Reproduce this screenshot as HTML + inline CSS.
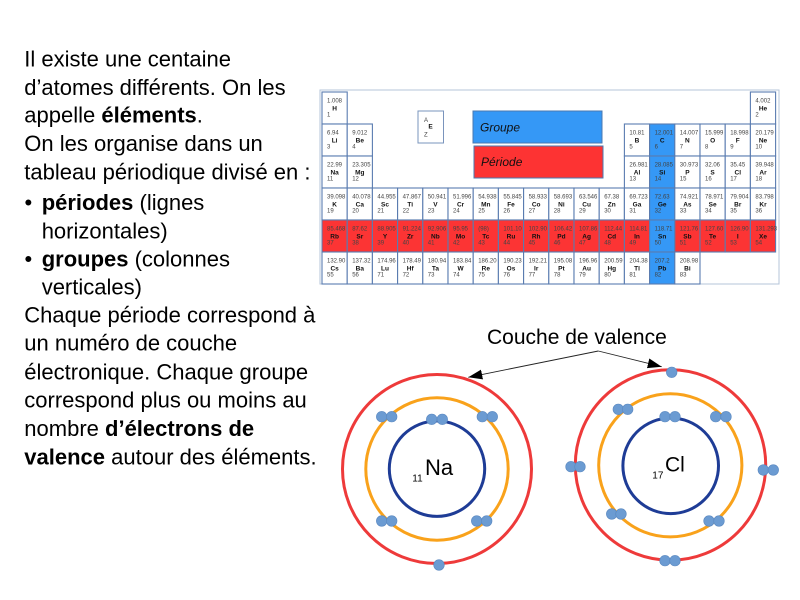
<!DOCTYPE html>
<html>
<head>
<meta charset="utf-8">
<style>
  html,body{margin:0;padding:0;background:#fff;}
  body{width:800px;height:600px;overflow:hidden;}
  svg{display:block;}
  .p{font-family:"Liberation Sans",Arial,sans-serif;font-size:22px;fill:#000;}
  .b{font-weight:bold;}
  .c{fill:#fff;stroke:#5a7cb0;stroke-width:1.1;}
  .r{fill:#fc3434;stroke:#5a7cb0;stroke-width:1.1;}
  .u{fill:#3598f6;stroke:#5a7cb0;stroke-width:1.1;}
  .m{font-family:"Liberation Sans",Arial,sans-serif;font-size:6px;fill:#444;}
  .s{font-family:"Liberation Sans",Arial,sans-serif;font-size:6.5px;font-weight:bold;fill:#111;text-anchor:middle;}
  .n{font-family:"Liberation Sans",Arial,sans-serif;font-size:6px;fill:#444;}
  .lab{font-family:"Liberation Sans",Arial,sans-serif;font-size:12px;font-style:italic;fill:#111;}
  .el{fill:#6b9bd2;stroke:#5a88c0;stroke-width:0.6;}
</style>
</head>
<body>
<svg width="800" height="600" viewBox="0 0 800 600" xmlns="http://www.w3.org/2000/svg">
<defs>
  <marker id="ah" markerUnits="userSpaceOnUse" markerWidth="14" markerHeight="10" refX="14" refY="5" orient="auto">
    <path d="M0,0 L14,5 L0,10 z" fill="#000"/>
  </marker>
</defs>

<!-- Left paragraph -->
<text class="p" x="24.3" y="66.7">Il existe une centaine</text>
<text class="p" x="24.3" y="95">d’atomes différents. On les</text>
<text class="p" x="24.3" y="122.7">appelle <tspan class="b">éléments</tspan>.</text>
<text class="p" x="24.3" y="151">On les organise dans un</text>
<text class="p" x="24.3" y="179.3">tableau périodique divisé en :</text>
<text class="p" x="24.5" y="210">•</text>
<text class="p" x="41.7" y="210"><tspan class="b">périodes</tspan> (lignes</text>
<text class="p" x="41.7" y="238.3">horizontales)</text>
<text class="p" x="24.5" y="266.7">•</text>
<text class="p" x="41.7" y="266.7"><tspan class="b">groupes</tspan> (colonnes</text>
<text class="p" x="41.7" y="294.3">verticales)</text>
<text class="p" x="24.3" y="322.3">Chaque période correspond à</text>
<text class="p" x="24.3" y="350.7">un numéro de couche</text>
<text class="p" x="24.3" y="379.3">électronique. Chaque groupe</text>
<text class="p" x="24.3" y="407.7">correspond plus ou moins au</text>
<text class="p" x="24.3" y="436">nombre <tspan class="b">d’électrons de</tspan></text>
<text class="p" x="24.3" y="464.3"><tspan class="b">valence</tspan> autour des éléments.</text>

<!-- Periodic table frame -->
<rect x="320" y="90" width="459" height="194" fill="#fff" stroke="#b4c4da" stroke-width="1"/>

<!-- Legend boxes -->
<rect x="418" y="111" width="25.5" height="32" fill="#fff" stroke="#7a94bc" stroke-width="1"/>
<text class="n" x="424" y="122">A</text>
<text class="s" x="430.5" y="128.5">E</text>
<text class="n" x="424" y="136.5">Z</text>
<rect x="473" y="111" width="129" height="32" fill="#3598f6" stroke="#4a78b0" stroke-width="1"/>
<text class="lab" x="480" y="131.5">Groupe</text>
<rect x="474" y="146" width="129" height="32" fill="#fd3333" stroke="#4a78b0" stroke-width="1"/>
<text class="lab" x="481" y="166">Période</text>

<!-- Row 1 -->
<g transform="translate(322,92)"><rect class="c" width="25.2" height="32"/><text class="m" x="5" y="10.5">1.008</text><text class="s" x="12.6" y="18.3">H</text><text class="n" x="5" y="24.7">1</text></g>
<g transform="translate(750.4,92)"><rect class="c" width="25.2" height="32"/><text class="m" x="5" y="10.5">4.002</text><text class="s" x="12.6" y="18.3">He</text><text class="n" x="5" y="24.7">2</text></g>

<!-- Row 2 -->
<g transform="translate(322,124)"><rect class="c" width="25.2" height="32"/><text class="m" x="5" y="10.5">6.94</text><text class="s" x="12.6" y="18.3">Li</text><text class="n" x="5" y="24.7">3</text></g>
<g transform="translate(347.2,124)"><rect class="c" width="25.2" height="32"/><text class="m" x="5" y="10.5">9.012</text><text class="s" x="12.6" y="18.3">Be</text><text class="n" x="5" y="24.7">4</text></g>
<g transform="translate(624.4,124)"><rect class="c" width="25.2" height="32"/><text class="m" x="5" y="10.5">10.81</text><text class="s" x="12.6" y="18.3">B</text><text class="n" x="5" y="24.7">5</text></g>
<g transform="translate(649.6,124)"><rect class="u" width="25.2" height="32"/><text class="m" x="5" y="10.5">12.001</text><text class="s" x="12.6" y="18.3">C</text><text class="n" x="5" y="24.7">6</text></g>
<g transform="translate(674.8,124)"><rect class="c" width="25.2" height="32"/><text class="m" x="5" y="10.5">14.007</text><text class="s" x="12.6" y="18.3">N</text><text class="n" x="5" y="24.7">7</text></g>
<g transform="translate(700,124)"><rect class="c" width="25.2" height="32"/><text class="m" x="5" y="10.5">15.999</text><text class="s" x="12.6" y="18.3">O</text><text class="n" x="5" y="24.7">8</text></g>
<g transform="translate(725.2,124)"><rect class="c" width="25.2" height="32"/><text class="m" x="5" y="10.5">18.998</text><text class="s" x="12.6" y="18.3">F</text><text class="n" x="5" y="24.7">9</text></g>
<g transform="translate(750.4,124)"><rect class="c" width="25.2" height="32"/><text class="m" x="5" y="10.5">20.179</text><text class="s" x="12.6" y="18.3">Ne</text><text class="n" x="5" y="24.7">10</text></g>

<!-- Row 3 -->
<g transform="translate(322,156)"><rect class="c" width="25.2" height="32"/><text class="m" x="5" y="10.5">22.99</text><text class="s" x="12.6" y="18.3">Na</text><text class="n" x="5" y="24.7">11</text></g>
<g transform="translate(347.2,156)"><rect class="c" width="25.2" height="32"/><text class="m" x="5" y="10.5">23.305</text><text class="s" x="12.6" y="18.3">Mg</text><text class="n" x="5" y="24.7">12</text></g>
<g transform="translate(624.4,156)"><rect class="c" width="25.2" height="32"/><text class="m" x="5" y="10.5">26.981</text><text class="s" x="12.6" y="18.3">Al</text><text class="n" x="5" y="24.7">13</text></g>
<g transform="translate(649.6,156)"><rect class="u" width="25.2" height="32"/><text class="m" x="5" y="10.5">28.085</text><text class="s" x="12.6" y="18.3">Si</text><text class="n" x="5" y="24.7">14</text></g>
<g transform="translate(674.8,156)"><rect class="c" width="25.2" height="32"/><text class="m" x="5" y="10.5">30.973</text><text class="s" x="12.6" y="18.3">P</text><text class="n" x="5" y="24.7">15</text></g>
<g transform="translate(700,156)"><rect class="c" width="25.2" height="32"/><text class="m" x="5" y="10.5">32.06</text><text class="s" x="12.6" y="18.3">S</text><text class="n" x="5" y="24.7">16</text></g>
<g transform="translate(725.2,156)"><rect class="c" width="25.2" height="32"/><text class="m" x="5" y="10.5">35.45</text><text class="s" x="12.6" y="18.3">Cl</text><text class="n" x="5" y="24.7">17</text></g>
<g transform="translate(750.4,156)"><rect class="c" width="25.2" height="32"/><text class="m" x="5" y="10.5">39.948</text><text class="s" x="12.6" y="18.3">Ar</text><text class="n" x="5" y="24.7">18</text></g>

<!-- Row 4 -->
<g transform="translate(322,188)"><rect class="c" width="25.2" height="32"/><text class="m" x="5" y="10.5">39.098</text><text class="s" x="12.6" y="18.3">K</text><text class="n" x="5" y="24.7">19</text></g>
<g transform="translate(347.2,188)"><rect class="c" width="25.2" height="32"/><text class="m" x="5" y="10.5">40.078</text><text class="s" x="12.6" y="18.3">Ca</text><text class="n" x="5" y="24.7">20</text></g>
<g transform="translate(372.4,188)"><rect class="c" width="25.2" height="32"/><text class="m" x="5" y="10.5">44.955</text><text class="s" x="12.6" y="18.3">Sc</text><text class="n" x="5" y="24.7">21</text></g>
<g transform="translate(397.6,188)"><rect class="c" width="25.2" height="32"/><text class="m" x="5" y="10.5">47.867</text><text class="s" x="12.6" y="18.3">Ti</text><text class="n" x="5" y="24.7">22</text></g>
<g transform="translate(422.8,188)"><rect class="c" width="25.2" height="32"/><text class="m" x="5" y="10.5">50.941</text><text class="s" x="12.6" y="18.3">V</text><text class="n" x="5" y="24.7">23</text></g>
<g transform="translate(448,188)"><rect class="c" width="25.2" height="32"/><text class="m" x="5" y="10.5">51.996</text><text class="s" x="12.6" y="18.3">Cr</text><text class="n" x="5" y="24.7">24</text></g>
<g transform="translate(473.2,188)"><rect class="c" width="25.2" height="32"/><text class="m" x="5" y="10.5">54.938</text><text class="s" x="12.6" y="18.3">Mn</text><text class="n" x="5" y="24.7">25</text></g>
<g transform="translate(498.4,188)"><rect class="c" width="25.2" height="32"/><text class="m" x="5" y="10.5">55.845</text><text class="s" x="12.6" y="18.3">Fe</text><text class="n" x="5" y="24.7">26</text></g>
<g transform="translate(523.6,188)"><rect class="c" width="25.2" height="32"/><text class="m" x="5" y="10.5">58.933</text><text class="s" x="12.6" y="18.3">Co</text><text class="n" x="5" y="24.7">27</text></g>
<g transform="translate(548.8,188)"><rect class="c" width="25.2" height="32"/><text class="m" x="5" y="10.5">58.693</text><text class="s" x="12.6" y="18.3">Ni</text><text class="n" x="5" y="24.7">28</text></g>
<g transform="translate(574,188)"><rect class="c" width="25.2" height="32"/><text class="m" x="5" y="10.5">63.546</text><text class="s" x="12.6" y="18.3">Cu</text><text class="n" x="5" y="24.7">29</text></g>
<g transform="translate(599.2,188)"><rect class="c" width="25.2" height="32"/><text class="m" x="5" y="10.5">67.38</text><text class="s" x="12.6" y="18.3">Zn</text><text class="n" x="5" y="24.7">30</text></g>
<g transform="translate(624.4,188)"><rect class="c" width="25.2" height="32"/><text class="m" x="5" y="10.5">69.723</text><text class="s" x="12.6" y="18.3">Ga</text><text class="n" x="5" y="24.7">31</text></g>
<g transform="translate(649.6,188)"><rect class="u" width="25.2" height="32"/><text class="m" x="5" y="10.5">72.63</text><text class="s" x="12.6" y="18.3">Ge</text><text class="n" x="5" y="24.7">32</text></g>
<g transform="translate(674.8,188)"><rect class="c" width="25.2" height="32"/><text class="m" x="5" y="10.5">74.921</text><text class="s" x="12.6" y="18.3">As</text><text class="n" x="5" y="24.7">33</text></g>
<g transform="translate(700,188)"><rect class="c" width="25.2" height="32"/><text class="m" x="5" y="10.5">78.971</text><text class="s" x="12.6" y="18.3">Se</text><text class="n" x="5" y="24.7">34</text></g>
<g transform="translate(725.2,188)"><rect class="c" width="25.2" height="32"/><text class="m" x="5" y="10.5">79.904</text><text class="s" x="12.6" y="18.3">Br</text><text class="n" x="5" y="24.7">35</text></g>
<g transform="translate(750.4,188)"><rect class="c" width="25.2" height="32"/><text class="m" x="5" y="10.5">83.798</text><text class="s" x="12.6" y="18.3">Kr</text><text class="n" x="5" y="24.7">36</text></g>

<!-- Row 5 (red) -->
<g transform="translate(322,220)"><rect class="r" width="25.2" height="32"/><text class="m" x="5" y="10.5">85.468</text><text class="s" x="12.6" y="18.3">Rb</text><text class="n" x="5" y="24.7">37</text></g>
<g transform="translate(347.2,220)"><rect class="r" width="25.2" height="32"/><text class="m" x="5" y="10.5">87.62</text><text class="s" x="12.6" y="18.3">Sr</text><text class="n" x="5" y="24.7">38</text></g>
<g transform="translate(372.4,220)"><rect class="r" width="25.2" height="32"/><text class="m" x="5" y="10.5">88.905</text><text class="s" x="12.6" y="18.3">Y</text><text class="n" x="5" y="24.7">39</text></g>
<g transform="translate(397.6,220)"><rect class="r" width="25.2" height="32"/><text class="m" x="5" y="10.5">91.224</text><text class="s" x="12.6" y="18.3">Zr</text><text class="n" x="5" y="24.7">40</text></g>
<g transform="translate(422.8,220)"><rect class="r" width="25.2" height="32"/><text class="m" x="5" y="10.5">92.906</text><text class="s" x="12.6" y="18.3">Nb</text><text class="n" x="5" y="24.7">41</text></g>
<g transform="translate(448,220)"><rect class="r" width="25.2" height="32"/><text class="m" x="5" y="10.5">95.95</text><text class="s" x="12.6" y="18.3">Mo</text><text class="n" x="5" y="24.7">42</text></g>
<g transform="translate(473.2,220)"><rect class="r" width="25.2" height="32"/><text class="m" x="5" y="10.5">(98)</text><text class="s" x="12.6" y="18.3">Tc</text><text class="n" x="5" y="24.7">43</text></g>
<g transform="translate(498.4,220)"><rect class="r" width="25.2" height="32"/><text class="m" x="5" y="10.5">101.10</text><text class="s" x="12.6" y="18.3">Ru</text><text class="n" x="5" y="24.7">44</text></g>
<g transform="translate(523.6,220)"><rect class="r" width="25.2" height="32"/><text class="m" x="5" y="10.5">102.90</text><text class="s" x="12.6" y="18.3">Rh</text><text class="n" x="5" y="24.7">45</text></g>
<g transform="translate(548.8,220)"><rect class="r" width="25.2" height="32"/><text class="m" x="5" y="10.5">106.42</text><text class="s" x="12.6" y="18.3">Pd</text><text class="n" x="5" y="24.7">46</text></g>
<g transform="translate(574,220)"><rect class="r" width="25.2" height="32"/><text class="m" x="5" y="10.5">107.86</text><text class="s" x="12.6" y="18.3">Ag</text><text class="n" x="5" y="24.7">47</text></g>
<g transform="translate(599.2,220)"><rect class="r" width="25.2" height="32"/><text class="m" x="5" y="10.5">112.44</text><text class="s" x="12.6" y="18.3">Cd</text><text class="n" x="5" y="24.7">48</text></g>
<g transform="translate(624.4,220)"><rect class="r" width="25.2" height="32"/><text class="m" x="5" y="10.5">114.81</text><text class="s" x="12.6" y="18.3">In</text><text class="n" x="5" y="24.7">49</text></g>
<g transform="translate(649.6,220)"><rect class="u" width="25.2" height="32"/><text class="m" x="5" y="10.5">118.71</text><text class="s" x="12.6" y="18.3">Sn</text><text class="n" x="5" y="24.7">50</text></g>
<g transform="translate(674.8,220)"><rect class="r" width="25.2" height="32"/><text class="m" x="5" y="10.5">121.76</text><text class="s" x="12.6" y="18.3">Sb</text><text class="n" x="5" y="24.7">51</text></g>
<g transform="translate(700,220)"><rect class="r" width="25.2" height="32"/><text class="m" x="5" y="10.5">127.60</text><text class="s" x="12.6" y="18.3">Te</text><text class="n" x="5" y="24.7">52</text></g>
<g transform="translate(725.2,220)"><rect class="r" width="25.2" height="32"/><text class="m" x="5" y="10.5">126.90</text><text class="s" x="12.6" y="18.3">I</text><text class="n" x="5" y="24.7">53</text></g>
<g transform="translate(750.4,220)"><rect class="r" width="25.2" height="32"/><text class="m" x="5" y="10.5">131.293</text><text class="s" x="12.6" y="18.3">Xe</text><text class="n" x="5" y="24.7">54</text></g>

<!-- Row 6 -->
<g transform="translate(322,252)"><rect class="c" width="25.2" height="32"/><text class="m" x="5" y="10.5">132.90</text><text class="s" x="12.6" y="18.3">Cs</text><text class="n" x="5" y="24.7">55</text></g>
<g transform="translate(347.2,252)"><rect class="c" width="25.2" height="32"/><text class="m" x="5" y="10.5">137.32</text><text class="s" x="12.6" y="18.3">Ba</text><text class="n" x="5" y="24.7">56</text></g>
<g transform="translate(372.4,252)"><rect class="c" width="25.2" height="32"/><text class="m" x="5" y="10.5">174.96</text><text class="s" x="12.6" y="18.3">Lu</text><text class="n" x="5" y="24.7">71</text></g>
<g transform="translate(397.6,252)"><rect class="c" width="25.2" height="32"/><text class="m" x="5" y="10.5">178.49</text><text class="s" x="12.6" y="18.3">Hf</text><text class="n" x="5" y="24.7">72</text></g>
<g transform="translate(422.8,252)"><rect class="c" width="25.2" height="32"/><text class="m" x="5" y="10.5">180.94</text><text class="s" x="12.6" y="18.3">Ta</text><text class="n" x="5" y="24.7">73</text></g>
<g transform="translate(448,252)"><rect class="c" width="25.2" height="32"/><text class="m" x="5" y="10.5">183.84</text><text class="s" x="12.6" y="18.3">W</text><text class="n" x="5" y="24.7">74</text></g>
<g transform="translate(473.2,252)"><rect class="c" width="25.2" height="32"/><text class="m" x="5" y="10.5">186.20</text><text class="s" x="12.6" y="18.3">Re</text><text class="n" x="5" y="24.7">75</text></g>
<g transform="translate(498.4,252)"><rect class="c" width="25.2" height="32"/><text class="m" x="5" y="10.5">190.23</text><text class="s" x="12.6" y="18.3">Os</text><text class="n" x="5" y="24.7">76</text></g>
<g transform="translate(523.6,252)"><rect class="c" width="25.2" height="32"/><text class="m" x="5" y="10.5">192.21</text><text class="s" x="12.6" y="18.3">Ir</text><text class="n" x="5" y="24.7">77</text></g>
<g transform="translate(548.8,252)"><rect class="c" width="25.2" height="32"/><text class="m" x="5" y="10.5">195.08</text><text class="s" x="12.6" y="18.3">Pt</text><text class="n" x="5" y="24.7">78</text></g>
<g transform="translate(574,252)"><rect class="c" width="25.2" height="32"/><text class="m" x="5" y="10.5">196.96</text><text class="s" x="12.6" y="18.3">Au</text><text class="n" x="5" y="24.7">79</text></g>
<g transform="translate(599.2,252)"><rect class="c" width="25.2" height="32"/><text class="m" x="5" y="10.5">200.59</text><text class="s" x="12.6" y="18.3">Hg</text><text class="n" x="5" y="24.7">80</text></g>
<g transform="translate(624.4,252)"><rect class="c" width="25.2" height="32"/><text class="m" x="5" y="10.5">204.38</text><text class="s" x="12.6" y="18.3">Tl</text><text class="n" x="5" y="24.7">81</text></g>
<g transform="translate(649.6,252)"><rect class="u" width="25.2" height="32"/><text class="m" x="5" y="10.5">207.2</text><text class="s" x="12.6" y="18.3">Pb</text><text class="n" x="5" y="24.7">82</text></g>
<g transform="translate(674.8,252)"><rect class="c" width="25.2" height="32"/><text class="m" x="5" y="10.5">208.98</text><text class="s" x="12.6" y="18.3">Bi</text><text class="n" x="5" y="24.7">83</text></g>

<!-- Couche de valence label + arrows -->
<text x="487" y="344" font-family="Liberation Sans, Arial, sans-serif" font-size="21" fill="#000">Couche de valence</text>
<line x1="598.3" y1="351" x2="468.3" y2="377.3" stroke="#222" stroke-width="0.9" marker-end="url(#ah)"/>
<line x1="598.3" y1="351" x2="661.7" y2="366.7" stroke="#222" stroke-width="0.9" marker-end="url(#ah)"/>

<!-- Na atom -->
<circle cx="437" cy="469" r="94.5" fill="none" stroke="#ee3a3a" stroke-width="3"/>
<circle cx="437" cy="469" r="71.2" fill="none" stroke="#f9a21b" stroke-width="3"/>
<circle cx="437" cy="468.7" r="47.7" fill="none" stroke="#1e3c96" stroke-width="3"/>
<text x="425" y="475" font-family="Liberation Sans, Arial, sans-serif" font-size="22" fill="#000">Na</text>
<text x="412.3" y="481.7" font-family="Liberation Sans, Arial, sans-serif" font-size="10" fill="#000">11</text>
<circle class="el" cx="381.7" cy="416.7" r="5.3"/><circle class="el" cx="391.7" cy="416.7" r="5.3"/>
<circle class="el" cx="431.7" cy="419.3" r="5.3"/><circle class="el" cx="442.3" cy="419.3" r="5.3"/>
<circle class="el" cx="482.3" cy="416.7" r="5.3"/><circle class="el" cx="492.3" cy="416.7" r="5.3"/>
<circle class="el" cx="381.7" cy="521" r="5.3"/><circle class="el" cx="391.7" cy="521" r="5.3"/>
<circle class="el" cx="476.7" cy="521" r="5.3"/><circle class="el" cx="486.7" cy="521" r="5.3"/>
<circle class="el" cx="439" cy="565" r="5.3"/>

<!-- Cl atom -->
<circle cx="670.5" cy="465" r="95.2" fill="none" stroke="#ee3a3a" stroke-width="3"/>
<circle cx="670.3" cy="465.3" r="71.6" fill="none" stroke="#f9a21b" stroke-width="3"/>
<circle cx="670.7" cy="465.8" r="47.8" fill="none" stroke="#1e3c96" stroke-width="3"/>
<text x="665" y="471.7" font-family="Liberation Sans, Arial, sans-serif" font-size="21" fill="#000">Cl</text>
<text x="652.3" y="478.3" font-family="Liberation Sans, Arial, sans-serif" font-size="10" fill="#000">17</text>
<circle class="el" cx="671.7" cy="372.3" r="5.3"/>
<circle class="el" cx="618.3" cy="409.3" r="5.3"/><circle class="el" cx="627.7" cy="409.3" r="5.3"/>
<circle class="el" cx="665" cy="416.7" r="5.3"/><circle class="el" cx="675" cy="416.7" r="5.3"/>
<circle class="el" cx="715.7" cy="416.7" r="5.3"/><circle class="el" cx="726" cy="416.7" r="5.3"/>
<circle class="el" cx="571" cy="466.7" r="5.3"/><circle class="el" cx="580" cy="466.7" r="5.3"/>
<circle class="el" cx="763.3" cy="470" r="5.3"/><circle class="el" cx="773.3" cy="470" r="5.3"/>
<circle class="el" cx="611.7" cy="514" r="5.3"/><circle class="el" cx="621" cy="514" r="5.3"/>
<circle class="el" cx="709" cy="521" r="5.3"/><circle class="el" cx="719" cy="521" r="5.3"/>
<circle class="el" cx="665" cy="560.7" r="5.3"/><circle class="el" cx="675" cy="560.7" r="5.3"/>
</svg>
</body>
</html>
